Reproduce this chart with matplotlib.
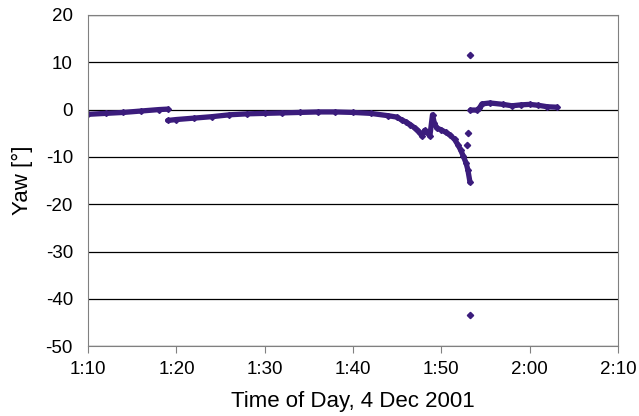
import matplotlib.pyplot as plt
from matplotlib.ticker import FuncFormatter, MultipleLocator

plt.rcParams['font.family'] = ['Liberation Sans', 'DejaVu Sans']
plt.rcParams['axes.unicode_minus'] = False

# minutes after midnight, yaw in degrees
seg1_t = [70.0, 72.0, 74.0, 76.0, 78.0, 79.0]
seg1_y = [-1.0, -0.8, -0.6, -0.3, 0.0, 0.1]

seg2_t = [79.0, 80, 82, 84, 86, 88, 90, 92, 94, 96, 98, 100, 102, 104,
          105.0, 105.5, 106.0, 106.5, 107.0, 107.4, 107.8, 108.1, 108.4,
          108.7, 109.0, 109.2, 109.5, 110.0, 110.5, 111.0, 111.5, 111.9,
          112.2, 112.5, 112.8, 113.0, 113.25]
seg2_y = [-2.3, -2.1, -1.8, -1.5, -1.1, -0.9, -0.8, -0.7, -0.6, -0.5,
          -0.5, -0.6, -0.8, -1.3, -1.6, -2.2, -2.6, -3.2, -3.9, -4.5,
          -5.6, -4.4, -4.8, -5.6, -1.1, -2.8, -3.9, -4.3, -4.8, -5.4,
          -6.3, -7.5, -8.6, -9.9, -11.3, -12.7, -15.4]

seg3_t = [113.3, 114.0, 114.3, 114.6, 115.5, 117.0, 118.0, 119.0, 120.0,
          121.0, 122.0, 123.1]
seg3_y = [-0.1, -0.1, 0.3, 1.2, 1.4, 1.1, 0.8, 1.0, 1.1, 0.9, 0.6, 0.5]

outlier_t = [113.3, 113.07, 113.3, 112.9]
outlier_y = [11.5, -5.0, -43.5, -7.5]

color = '#3b1c7c'

fig = plt.figure(figsize=(6.39, 4.16), dpi=100)
ax = fig.add_axes([0.138, 0.168, 0.829, 0.796])

for t, y in [(seg1_t, seg1_y), (seg2_t, seg2_y), (seg3_t, seg3_y)]:
    ax.plot(t, y, color=color, linewidth=3.8, solid_capstyle='round',
            marker='D', markersize=3)
ax.plot(outlier_t, outlier_y, linestyle='none', color=color,
        marker='D', markersize=3.2)

ax.set_xlim(70, 130)
ax.set_ylim(-50, 20)
ax.xaxis.set_major_locator(MultipleLocator(10))
ax.yaxis.set_major_locator(MultipleLocator(10))
ax.xaxis.set_major_formatter(
    FuncFormatter(lambda v, p: f"{int(v) // 60}:{int(v) % 60:02d}"))

ax.grid(axis='y', color='black', linewidth=0.9)
ax.set_axisbelow(True)
for s in ax.spines.values():
    s.set_color('#808080')
ax.tick_params(axis='x', direction='out', length=5, color='#808080',
               labelsize=13.5, pad=6)
ax.tick_params(axis='y', length=0, labelsize=13.5, pad=11)

ax.set_xlabel("Time of Day, 4 Dec 2001", fontsize=16)
ax.set_ylabel("Yaw [°]", fontsize=16)
ax.xaxis.set_label_coords(0.5, -0.135)
ax.yaxis.set_label_coords(-0.104, 0.5)

fig.savefig("out.png", dpi=100)
